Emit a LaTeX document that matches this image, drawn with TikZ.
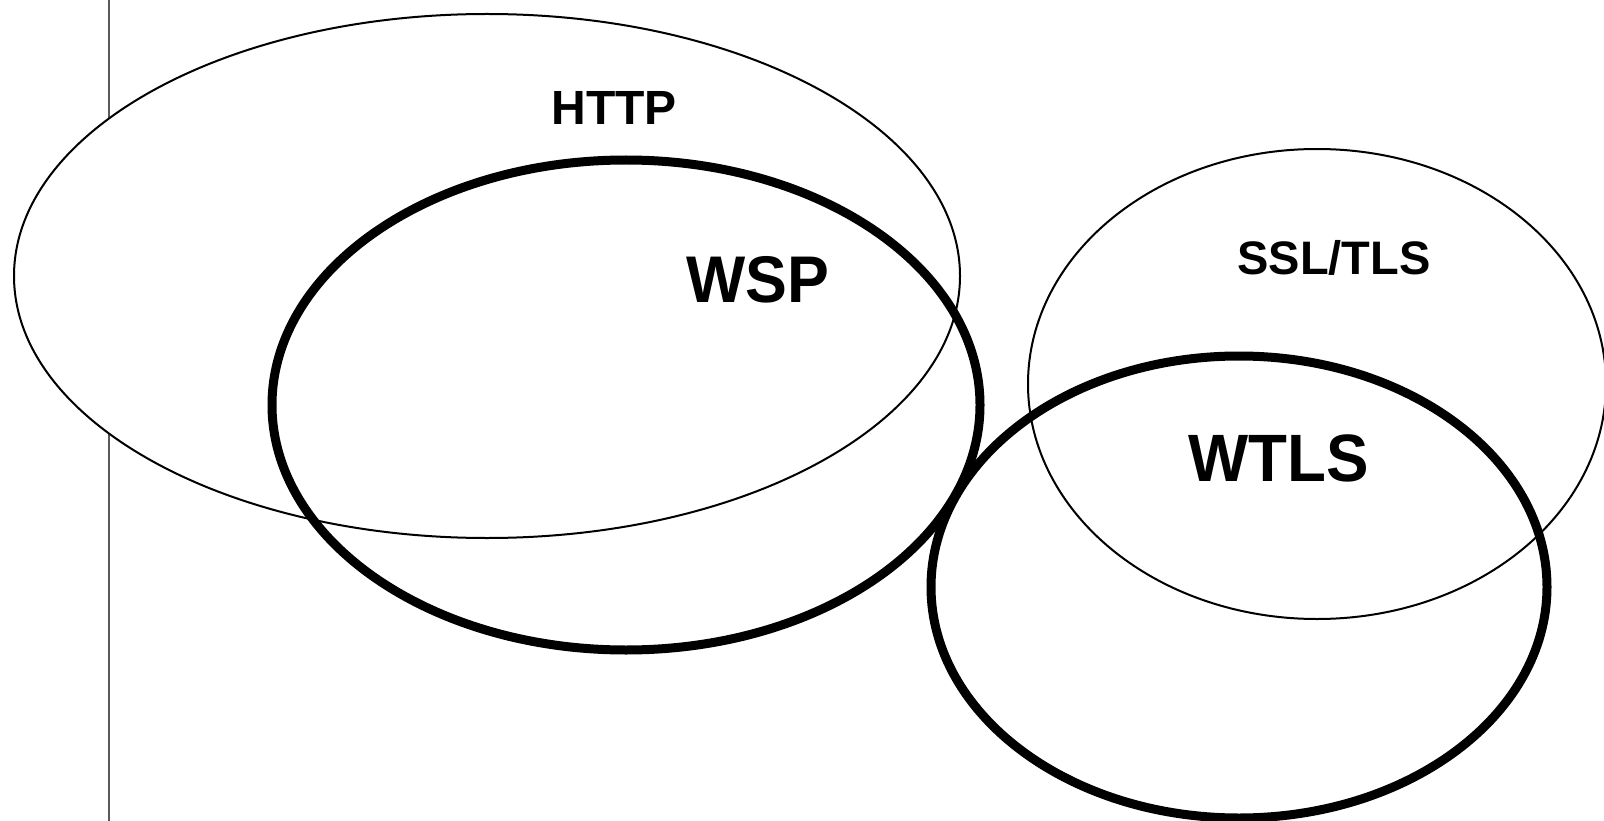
\documentclass[tikz,border=0pt]{standalone}
\usepackage{fontspec}
\setmainfont{Liberation Sans}
\usetikzlibrary{shapes.geometric}
\tikzset{
  thinring/.style={draw, ellipse, inner sep=0pt, line width=2pt},
  thickring/.style={draw, ellipse, inner sep=0pt, line width=9pt},
  lbl/.style={anchor=base, inner sep=0pt, font=\bfseries}
}
\begin{document}
\begin{tikzpicture}[x=1pt,y=-1pt]
    \useasboundingbox (0,0) rectangle (1604,821);
    \coordinate (T) at (109,0);
    \coordinate (B) at (109,821);
    \draw[gray!70!black, line width=1.2pt] (T) -- (B);
    
    \node[thinring, fill=white, minimum width=946pt, minimum height=524pt] (http) at (487,276) {};
    \node[thickring, minimum width=708pt, minimum height=490pt] (wsp) at (626,405) {};
    \node[thinring, minimum width=578pt, minimum height=470pt] (ssl) at (1317,384) {};
    \node[thickring, minimum width=616pt, minimum height=462pt] (wtls) at (1239,587) {};
    
    \node[lbl] (httplbl) at (614,125) {\fontsize{48}{50}\selectfont HTTP};
    \node[lbl] (wsplbl) at (758,302) {\fontsize{66}{70}\selectfont\scalebox{0.95}[1]{WSP}};
    \node[lbl] (ssllbl) at (1334,274) {\fontsize{47}{50}\selectfont SSL/TLS};
    \node[lbl] (wtlslbl) at (1279,481) {\fontsize{67}{70}\selectfont\scalebox{0.95}[1]{WTLS}};
    
\end{tikzpicture}
\end{document}
